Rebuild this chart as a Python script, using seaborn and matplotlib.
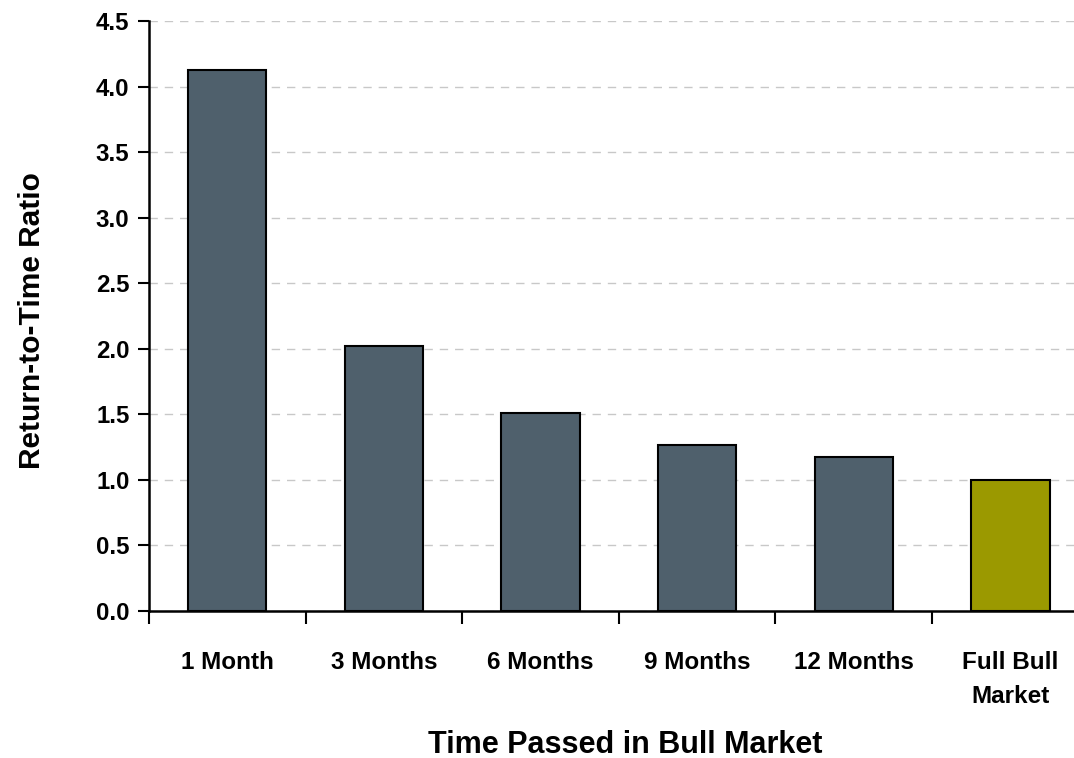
import matplotlib
matplotlib.use("Agg")
import matplotlib.pyplot as plt
import seaborn as sns
import pandas as pd
import numpy as np

categories = ["1 Month", "3 Months", "6 Months", "9 Months", "12 Months", "Full Bull\nMarket"]
values = [4.13, 2.02, 1.51, 1.27, 1.175, 1.0]
bar_colors = ["#4F606C", "#4F606C", "#4F606C", "#4F606C", "#4F606C", "#9B9900"]
y_ticks = [0.0, 0.5, 1.0, 1.5, 2.0, 2.5, 3.0, 3.5, 4.0, 4.5]

sns.set_theme(style="white")
plt.rcParams['font.family'] = ['Liberation Sans', 'DejaVu Sans']
plt.rcParams['text.color'] = 'black'
plt.rcParams['axes.labelcolor'] = 'black'
plt.rcParams['xtick.color'] = 'black'
plt.rcParams['ytick.color'] = 'black'

df = pd.DataFrame({"cat": categories, "val": values})

fig = plt.figure(figsize=(10.74, 7.58), dpi=100)
ax = fig.add_axes([0.1387, 0.194, 0.875, 0.778])

sns.barplot(data=df, x="cat", y="val", hue="cat", palette=bar_colors, legend=False,
            width=0.5, edgecolor="black", linewidth=1.5, ax=ax, zorder=3, saturation=1)

ax.set_ylim(0, 4.5)
ax.set_xlim(-0.5, len(categories) - 0.5)
ax.set_yticks(y_ticks)
ax.set_yticklabels([f"{t:.1f}" for t in y_ticks], fontsize=17.3, fontweight="bold", color="black")

ax.set_xticks(range(len(categories)))
ax.set_xticklabels(categories, fontsize=17.5, fontweight="bold", linespacing=1.62, color="black")
ax.set_xticks(np.arange(-0.5, len(categories), 1.0), minor=True)
ax.tick_params(axis="x", which="major", length=0, pad=29)
ax.tick_params(axis="x", which="minor", length=9, width=1.5, color="black", direction="out", bottom=True)
ax.tick_params(axis="y", which="major", length=8, width=1.5, color="black", direction="out", left=True, pad=6)

for s in ["top", "right"]:
    ax.spines[s].set_visible(False)
for s in ["left", "bottom"]:
    ax.spines[s].set_color("black")
    ax.spines[s].set_linewidth(1.8)

ax.yaxis.grid(True, linestyle=(0, (6, 5)), color="#c8c8c8", linewidth=1.0, zorder=0)
ax.xaxis.grid(False)
ax.set_axisbelow(True)

ax.set_xlabel("Time Passed in Bull Market", fontsize=22, fontweight="bold", color="black")
ax.xaxis.set_label_coords(0.507, -0.227)
ax.xaxis.label.set_verticalalignment("center")
ax.set_ylabel("Return-to-Time Ratio", fontsize=21.5, fontweight="bold", color="black")
ax.yaxis.set_label_coords(-0.1245, 0.493)
ax.yaxis.label.set_verticalalignment("center")

fig.savefig("out.png", dpi=100)
